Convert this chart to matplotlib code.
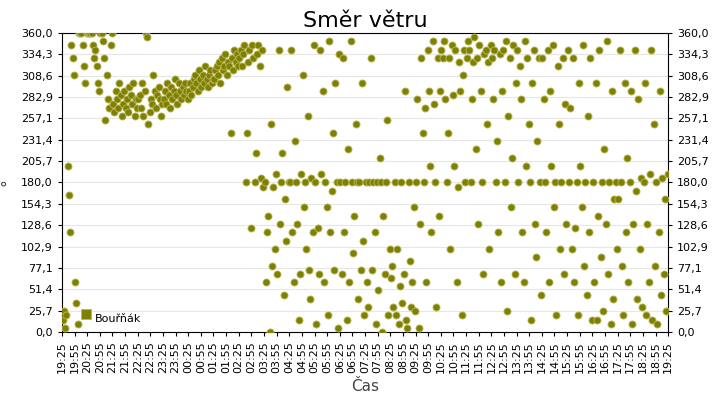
import numpy as np
import matplotlib.pyplot as plt
from matplotlib.path import Path

# wind direction per hour block starting 19:25 (samples evenly spread within hour)
hourly_dirs = [
    [15,25,5,20,200,165,120,345,330,310,60,35,10,360,360,360,345,320,300,360],
    [360,360,360,360,345,330,340,320,300,290,360,360,350,330,255,310,280,270,345,360],
    [275,265,290,280,270,300,285,260,275,290,270,280,265,295,285,275,300,260,280,270],
    [280,285,270,300,260,290,360,355,250,265,280,275,310,290,270,285,295,280,260,275],
    [280,290,275,300,285,270,295,280,290,305,285,275,300,290,280,295,285,300,290,280],
    [290,300,285,295,305,310,300,290,315,305,295,310,300,320,305,295,310,315,300,305],
    [305,315,320,310,325,300,330,315,320,335,310,325,320,240,330,315,340,325,335,320],
    [330,340,320,335,345,180,240,325,340,125,345,330,180,215,335,345,320,185,340,175],
    [180,60,120,140,0,250,80,175,100,190,70,340,130,180,215,45,160,110,295,180],
    [180,340,120,60,230,180,130,15,70,190,310,150,180,100,260,75,40,185,120,345],
    [180,10,125,70,340,190,290,60,180,150,20,350,120,170,240,75,300,180,5,335],
    [180,70,330,120,180,15,220,60,350,180,95,140,250,180,40,180,75,300,110,20],
    [180,60,30,180,330,75,180,120,10,180,50,210,180,0,140,70,180,255,20,100],
    [65,80,30,180,20,100,10,55,180,35,70,290,15,5,180,85,30,60,150,25],
    [180,280,5,130,330,240,180,270,60,340,290,200,120,350,275,180,30,330,140,290],
    [340,330,350,280,180,240,330,100,345,285,200,340,60,175,325,290,20,310,340,180],
    [330,350,340,180,280,325,355,220,330,130,345,290,180,70,335,340,250,325,100,345],
    [330,280,340,180,230,120,335,60,290,340,180,350,25,260,330,150,210,345,70,300],
    [340,180,320,280,120,60,350,200,330,250,180,15,300,340,130,90,230,330,180,45],
    [330,280,180,120,340,60,290,200,345,150,180,20,320,250,100,180,330,70,275,130],
    [340,180,270,100,330,60,125,180,20,300,200,150,345,80,180,45,260,120,330,15],
    [180,60,300,15,140,340,90,180,25,220,130,350,70,180,10,290,40,160,180,100],
    [160,340,180,80,20,300,120,210,60,180,290,10,130,340,170,40,280,100,185,30],
    [180,300,20,130,60,190,340,15,250,80,180,10,120,290,45,185,70,160,25,190],
]
start_min = 19 * 60 + 25

xs, ys = [], []
for h, vals in enumerate(hourly_dirs):
    n = len(vals)
    for i, v in enumerate(vals):
        xs.append(h + (i + 0.5) / n)
        ys.append(v)

fig = plt.figure(figsize=(7.2, 4), dpi=100)
ax = fig.add_axes([0.086, 0.17, 0.842, 0.7475])
ax.scatter(xs, ys, s=26, color='#808000', edgecolor='#b8b860', linewidth=0.6, zorder=3, label='Bouřňák')

yt = np.linspace(0, 360, 15)
ax.set_ylim(0, 360)
ax.set_yticks(yt)
ax.set_yticklabels([f"{v:.1f}".replace('.', ',') for v in yt], fontsize=8)
ax.tick_params(axis='y', right=True, labelright=True, length=3)
ax.grid(axis='y', color='#e6e6e6', lw=0.8, zorder=0)

xt = np.arange(0, 24.01, 0.5)
lbl = []
for t in xt:
    m = (start_min + int(round(t * 60))) % (24 * 60)
    lbl.append(f"{m // 60:02d}:{m % 60:02d}")
ax.set_xlim(0, 24)
ax.set_xticks(xt)
ax.set_xticklabels(lbl, rotation=90, fontsize=8)
ax.tick_params(axis='x', length=3)

ax.set_title("Směr větru", fontsize=16, pad=4)
ax.set_xlabel("Čas", fontsize=11, color='#444444')
ax.set_ylabel("°", fontsize=11, color='#444444')
leg = ax.legend(loc='lower left', markerscale=1.4, frameon=False, fontsize=8, handletextpad=0.3, borderpad=0.2)
for hnd in leg.legend_handles:
    hnd.set_paths([Path.unit_rectangle()])
fig.savefig("out.png", dpi=100)
